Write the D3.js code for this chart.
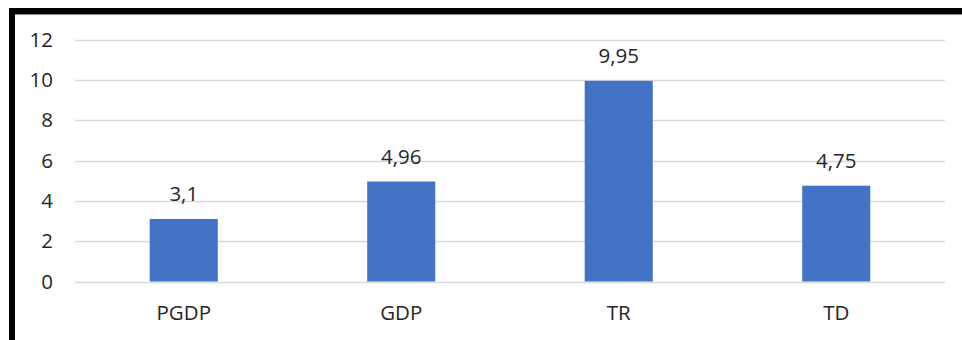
<!DOCTYPE html>
<html>
<head>
<meta charset="utf-8">
<script src="https://cdn.jsdelivr.net/npm/d3@7"></script>
<style>
  html, body { margin: 0; padding: 0; background: #fff; }
  svg { display: block; }
</style>
</head>
<body>
<svg id="chart" width="962" height="340"></svg>
<script>
// Indicator categories and their values
const categories = ["PGDP", "GDP", "TR", "TD"];
const values = [3.1, 4.96, 9.95, 4.75];
const yTicks = [0, 2, 4, 6, 8, 10, 12];

const W = 962, H = 340;
const margin = { left: 75, right: 17, top: 39.5, bottom: 58.5 };

const svg = d3.select("#chart");
const font = "'Open Sans', 'Noto Sans', sans-serif";
const fontSize = 20.5;
const textColor = "#262626";

svg.append("rect").attr("width", W).attr("height", H).attr("fill", "#fff");

const x = d3.scaleBand()
  .domain(categories)
  .range([margin.left, W - margin.right])
  .paddingInner(0.687)
  .paddingOuter(0.3435);

const y = d3.scaleLinear()
  .domain([0, 12])
  .range([H - margin.bottom, margin.top]);

// Horizontal gridlines
svg.append("g")
  .selectAll("line")
  .data(yTicks)
  .join("line")
  .attr("x1", margin.left)
  .attr("x2", W - margin.right)
  .attr("y1", d => Math.round(y(d)) + 0.5)
  .attr("y2", d => Math.round(y(d)) + 0.5)
  .attr("stroke", "#d9d9d9")
  .attr("stroke-width", 1.3);

// Y axis labels
const yAxis = d3.axisLeft(y).tickValues(yTicks).tickSize(0).tickPadding(0);
const gy = svg.append("g")
  .attr("transform", `translate(${margin.left - 22},0)`)
  .call(yAxis);
gy.select(".domain").remove();
gy.selectAll("text")
  .attr("font-family", font)
  .attr("font-size", fontSize)
  .attr("fill", textColor);

// X axis labels
const xAxis = d3.axisBottom(x).tickSize(0).tickPadding(0);
const gx = svg.append("g")
  .attr("transform", `translate(0,${y(0) + 23.5})`)
  .call(xAxis);
gx.select(".domain").remove();
gx.selectAll("text")
  .attr("font-family", font)
  .attr("font-size", fontSize)
  .attr("fill", textColor);

// Bars
svg.append("g")
  .selectAll("rect")
  .data(values)
  .join("rect")
  .attr("x", (d, i) => x(categories[i]))
  .attr("y", d => y(d))
  .attr("width", x.bandwidth())
  .attr("height", d => y(0) - y(d))
  .attr("fill", "#4472c4");

// Value labels (comma decimal separator)
const fmt = d => String(d).replace(".", ",");
svg.append("g")
  .selectAll("text")
  .data(values)
  .join("text")
  .attr("x", (d, i) => x(categories[i]) + x.bandwidth() / 2)
  .attr("y", d => y(d) - 17.5)
  .attr("text-anchor", "middle")
  .attr("font-family", font)
  .attr("font-size", fontSize)
  .attr("fill", textColor)
  .text(fmt);

// Frame: heavy top and left edges
svg.append("rect").attr("x", 9).attr("y", 8).attr("width", W - 9).attr("height", 6).attr("fill", "#000");
svg.append("rect").attr("x", 9).attr("y", 14).attr("width", W - 9).attr("height", 1).attr("fill", "#888");
svg.append("rect").attr("x", 9).attr("y", 8).attr("width", 6).attr("height", H - 8).attr("fill", "#000");
</script>
</body>
</html>
